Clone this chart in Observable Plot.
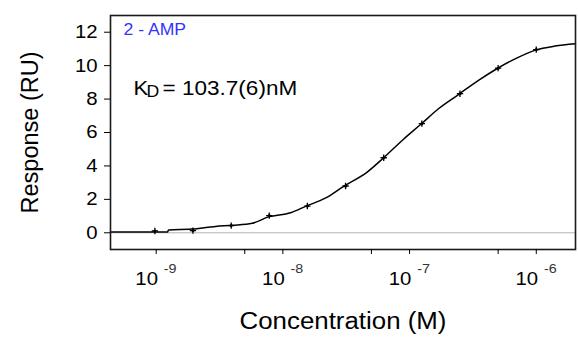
<!DOCTYPE html>
<html><head><meta charset="utf-8">
<script src="https://cdn.jsdelivr.net/npm/d3@7"></script>
<script src="https://cdn.jsdelivr.net/npm/@observablehq/plot@0.6"></script>
<style>body{margin:0;background:#fff}</style>
</head><body><div id="chart"></div>
<script>
// Measured data points (concentration in M, response in RU)
const concentration = [9.77e-10, 1.95e-9, 3.91e-9, 7.81e-9, 1.56e-8, 3.125e-8, 6.25e-8, 1.25e-7, 2.5e-7, 5e-7, 1e-6];
const response = [0.11, 0.13, 0.43, 1.03, 1.6, 2.8, 4.49, 6.53, 8.32, 9.85, 10.96];

// Fitted curve
const fitConcentration = [4.36e-10, 1.23e-9, 1.25e-9, 1.9e-9, 2.94e-9, 4.0e-9, 5.73e-9, 7.7e-9, 1.15e-8, 1.51e-8, 2.2e-8, 3.02e-8, 4.63e-8, 6.19e-8, 8.96e-8, 1.24e-7, 1.69e-7, 2.43e-7, 3.5e-7, 4.85e-7, 7e-7, 9.86e-7, 1.4e-6, 2.04e-6];
const fitResponse = [0.05, 0.05, 0.17, 0.22, 0.38, 0.45, 0.57, 0.95, 1.2, 1.58, 2.1, 2.78, 3.63, 4.46, 5.6, 6.52, 7.42, 8.27, 9.12, 9.8, 10.45, 10.93, 11.17, 11.31];

const xTickValues = [1e-9, 5e-9, 1e-8, 5e-8, 1e-7, 5e-7, 1e-6];
const xLabelValues = [1e-9, 1e-8, 1e-7, 1e-6];
const xLabelExponents = ["-9", "-8", "-7", "-6"];
const yTickValues = [0, 2, 4, 6, 8, 10, 12];

const seriesLabel = "2 - AMP";
const kdMain = "K";
const kdSub = "D";
const kdValue = "= 103.7(6)nM";
const xTitle = "Concentration (M)";
const yTitle = "Response (RU)";

const chart = Plot.plot({
  width: 578,
  height: 338,
  marginLeft: 110,
  marginRight: 3,
  marginTop: 15,
  marginBottom: 89,
  style: {fontFamily: "'Liberation Sans', Arial, sans-serif", background: "#fff", color: "#000"},
  x: {type: "log", domain: [4.36e-10, 2.04e-6]},
  y: {domain: [-1, 13]},
  marks: [
    Plot.ruleY([0], {stroke: "#b4b4b4", strokeWidth: 1}),
    Plot.line(fitConcentration.map((c, i) => ({c, r: fitResponse[i]})), {x: "c", y: "r", stroke: "#000", strokeWidth: 1.5, curve: "monotone-x"}),
    Plot.dot(concentration.map((c, i) => ({c, r: response[i]})), {x: "c", y: "r", symbol: "plus", r: 2.2, stroke: "#000", strokeWidth: 1.3}),
    Plot.dot(concentration.map((c, i) => ({c, r: response[i]})), {x: "c", y: "r", r: 1.5, fill: "#000"}),
    Plot.frame({stroke: "#1a1a1a", strokeWidth: 1.6}),
    Plot.axisY({ticks: yTickValues, tickSize: 6, tickPadding: 7, fontSize: 18.5, label: null, stroke: "#000"}),
    Plot.axisX({ticks: xTickValues, tickSize: 5, tickFormat: () => "", label: null, stroke: "#000"}),
    Plot.text(xLabelValues, {x: d => d, frameAnchor: "bottom", text: () => "10", dx: -9.5, dy: 29.3, lineAnchor: "middle", fontSize: 18.5, fill: "#000"}),
    Plot.text(xLabelValues, {x: d => d, frameAnchor: "bottom", text: (d, i) => xLabelExponents[i], dx: 14, dy: 19, lineAnchor: "middle", fontSize: 13, fill: "#333"}),
    Plot.text([xTitle], {frameAnchor: "bottom", dy: 72, textAnchor: "middle", lineAnchor: "middle", fontSize: 23.5, fill: "#000"}),
    Plot.text([yTitle], {frameAnchor: "left", dx: -80.5, rotate: -90, textAnchor: "middle", lineAnchor: "middle", fontSize: 23.5, fill: "#000", className: "ytitle"}),
    Plot.text([seriesLabel], {frameAnchor: "top-left", dx: 13, dy: 14, textAnchor: "start", lineAnchor: "middle", fontSize: 16, fill: "#3333ff"}),
    Plot.text([kdMain], {frameAnchor: "top-left", dx: 23, dy: 73.3, textAnchor: "start", lineAnchor: "middle", fontSize: 20, fill: "#000"}),
    Plot.text([kdSub], {frameAnchor: "top-left", dx: 36, dy: 76.3, textAnchor: "start", lineAnchor: "middle", fontSize: 16, fill: "#000"}),
    Plot.text([kdValue], {frameAnchor: "top-left", dx: 52, dy: 73.3, textAnchor: "start", lineAnchor: "middle", fontSize: 20.5, fill: "#000"})
  ]
});
document.getElementById("chart").appendChild(chart);
// widen glyphs slightly to match the horizontally stretched reference (not the rotated title)
chart.querySelectorAll("text").forEach(t => {
  if (t.closest(".ytitle")) return;
  const w = t.getComputedTextLength();
  if (w > 0) {
    t.setAttribute("textLength", (w * 1.1).toFixed(2));
    t.setAttribute("lengthAdjust", "spacingAndGlyphs");
  }
});
</script>
</body></html>
